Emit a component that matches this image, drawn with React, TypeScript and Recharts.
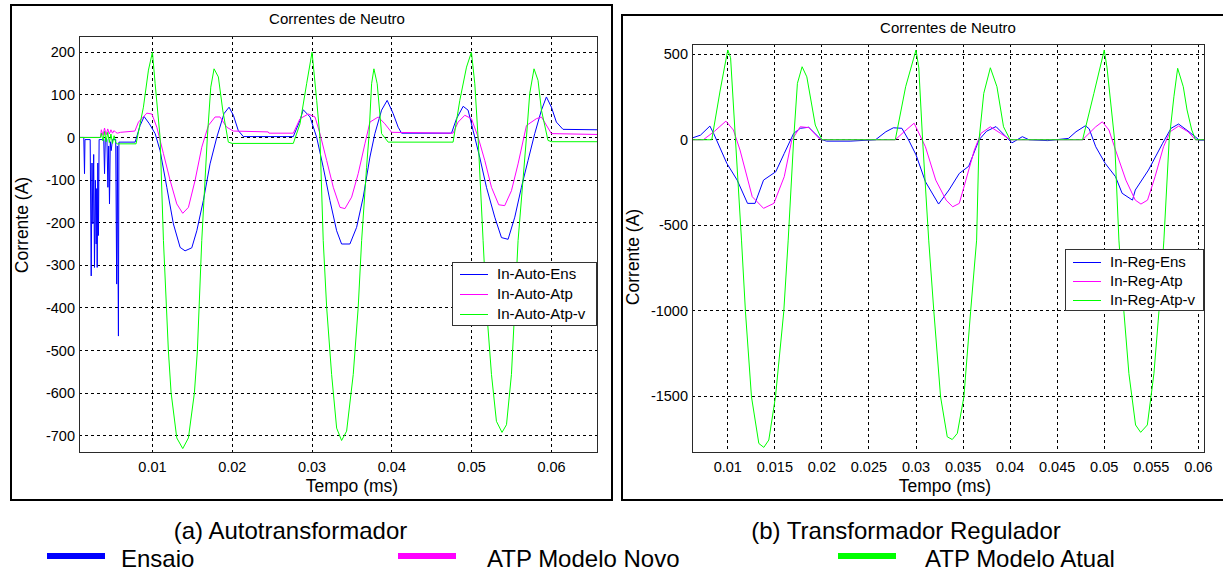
import React from 'react';
import { LineChart, Line, XAxis, YAxis, CartesianGrid } from 'recharts';

type Pt = [number, number];

// ---------- data : (a) Autotransformador ----------
const autoEnsaio: Pt[] = [
  [0.0008, 0], [0.0014, 0], [0.00149, -85], [0.00155, -5], [0.0022, -5], [0.00233, -325], [0.00243, -60],
  [0.00254, -203], [0.00264, -40], [0.00274, -305], [0.00285, -100], [0.00295, -250], [0.00302, -120],
  [0.00308, -305], [0.00316, -60], [0.00324, -230], [0.00332, -5], [0.0039, -5], [0.004, -85], [0.0041, 0],
  [0.0043, -5], [0.00442, -117], [0.00452, -20], [0.00462, -156], [0.00472, -10], [0.00483, -31], [0.005, -5],
  [0.0054, -5], [0.00552, -344], [0.0056, -20], [0.00574, -466], [0.0058, -11], [0.00783, -11], [0.00846, 28],
  [0.00896, 49], [0.00962, 32], [0.01034, 9], [0.01096, -31], [0.0118, -117], [0.01263, -203], [0.01347, -258],
  [0.01409, -266], [0.01493, -259], [0.01556, -219], [0.01638, -148], [0.01722, -62], [0.01806, 0], [0.01897, 56],
  [0.0196, 71], [0.02014, 52], [0.02076, 16], [0.02139, 2], [0.02765, 2], [0.02849, 40], [0.02889, 65],
  [0.02975, 48], [0.03058, 0], [0.0314, -70], [0.03224, -148], [0.03308, -219], [0.0337, -250], [0.03474, -250],
  [0.03558, -211], [0.03641, -140], [0.03725, -46], [0.03787, 9], [0.03871, 64], [0.03941, 87], [0.04016, 56],
  [0.04079, 24], [0.04121, 10], [0.04747, 10], [0.0481, 44], [0.04893, 73], [0.04955, 64], [0.05018, 16],
  [0.051, -46], [0.05185, -117], [0.05289, -187], [0.05373, -235], [0.05456, -239], [0.0554, -187], [0.05623, -117],
  [0.05706, -54], [0.0579, 9], [0.05874, 64], [0.05936, 95], [0.05999, 71], [0.06061, 36], [0.06144, 19], [0.0657, 18],
];

const autoNovo: Pt[] = [
  [0.0008, 0], [0.0035, 0], [0.0036, 18], [0.0038, 5], [0.004, 22], [0.0042, 6], [0.0044, 20], [0.0046, 8],
  [0.0048, 18], [0.005, 10], [0.0052, 16], [0.0054, 12], [0.0056, 10], [0.006, 12], [0.0078, 15], [0.00825, 36],
  [0.0093, 57], [0.00993, 55], [0.01055, 24], [0.01138, -38], [0.01222, -101], [0.01305, -156], [0.0138, -178],
  [0.01451, -164], [0.01534, -101], [0.01618, -23], [0.01701, 28], [0.01785, 48], [0.01847, 48], [0.01931, 24],
  [0.02014, 15], [0.0245, 13], [0.0246, 10], [0.02765, 10], [0.02849, 44], [0.02953, 55], [0.03037, 48],
  [0.03099, 9], [0.03183, -54], [0.03266, -117], [0.0335, -164], [0.03412, -167], [0.03496, -140], [0.03578, -85],
  [0.03662, -15], [0.03725, 36], [0.03829, 48], [0.03912, 32], [0.03996, 12], [0.04767, 10], [0.0483, 36],
  [0.04914, 52], [0.04997, 44], [0.0508, 1], [0.05164, -54], [0.05248, -117], [0.05339, -158], [0.05414, -160],
  [0.05498, -125], [0.05581, -62], [0.05686, 28], [0.05811, 44], [0.05874, 48], [0.05999, 9], [0.0657, 7],
];

const autoAtual: Pt[] = [
  [0.0008, 0], [0.0035, 0], [0.0036, 10], [0.0038, -8], [0.004, 14], [0.0042, -10], [0.0044, 12], [0.0046, -12],
  [0.0048, 8], [0.005, -14], [0.0052, 4], [0.0054, -12], [0.0056, -15], [0.00795, -15], [0.00887, 71],
  [0.0095, 158], [0.01, 200], [0.01034, 126], [0.01096, 0], [0.01138, -242], [0.012, -501], [0.01234, -599],
  [0.01305, -705], [0.0138, -730], [0.01451, -705], [0.01526, -599], [0.01563, -501], [0.01618, -242],
  [0.01688, 0], [0.01731, 118], [0.01772, 161], [0.01826, 142], [0.01881, 64], [0.01951, -11], [0.02, -14],
  [0.02765, -14], [0.02849, 32], [0.02932, 126], [0.03, 200], [0.03058, 87], [0.03099, 0], [0.0314, -242],
  [0.03183, -399], [0.03245, -556], [0.03308, -682], [0.0337, -711], [0.03433, -689], [0.03516, -556],
  [0.03578, -399], [0.03621, -242], [0.03683, -70], [0.03712, 0], [0.03746, 126], [0.03775, 161], [0.03816, 126],
  [0.03871, 9], [0.03954, -11], [0.04767, -11], [0.04851, 87], [0.04935, 165], [0.04997, 200], [0.05039, 126],
  [0.0508, 0], [0.05143, -242], [0.05185, -399], [0.05248, -556], [0.0531, -666], [0.0538, -692], [0.05436, -674],
  [0.05498, -556], [0.0554, -399], [0.05581, -242], [0.05686, 0], [0.05727, 103], [0.05781, 161], [0.05831, 134],
  [0.05874, 64], [0.05956, -7], [0.06, -10], [0.0657, -10],
];

// ---------- data : (b) Transformador Regulador ----------
const regEnsaio: Pt[] = [
  [0.0062, 10], [0.0071, 27], [0.0081, 80], [0.0085, 37], [0.0099, -138], [0.011, -236], [0.0121, -372],
  [0.0129, -372], [0.0138, -236], [0.0151, -187], [0.016, -80], [0.017, 37], [0.0177, 67], [0.0186, 73],
  [0.0199, 2], [0.0205, -8], [0.023, -8], [0.0257, 0], [0.0268, 47], [0.0276, 70], [0.0285, 67], [0.0292, 0],
  [0.03, -88], [0.031, -245], [0.0324, -376], [0.0335, -294], [0.0346, -197], [0.0356, -155], [0.0367, 0],
  [0.0375, 50], [0.0385, 77], [0.0402, -18], [0.0413, 18], [0.042, 0], [0.044, -5], [0.0462, 8], [0.047, 47],
  [0.048, 82], [0.0484, 64], [0.0491, -41], [0.0501, -138], [0.0512, -216], [0.0519, -313], [0.053, -353],
  [0.0533, -294], [0.0547, -177], [0.0562, -21], [0.0571, 67], [0.0579, 92], [0.059, 47], [0.0601, -2], [0.0606, -2],
];

const regNovo: Pt[] = [
  [0.0062, 0], [0.0074, 0], [0.0086, 50], [0.0098, 109], [0.0106, 57], [0.0113, -60], [0.0126, -333],
  [0.0138, -401], [0.0149, -372], [0.016, -216], [0.0168, -2], [0.0177, 76], [0.0186, 71], [0.0197, 8], [0.02, 0],
  [0.0278, 0], [0.0288, 50], [0.0298, 97], [0.031, -41], [0.0321, -236], [0.0332, -353], [0.0339, -392],
  [0.0346, -372], [0.0353, -236], [0.0362, -60], [0.0369, 37], [0.0379, 76], [0.039, 37], [0.04, 0], [0.0477, 0],
  [0.0491, 76], [0.0498, 105], [0.0505, 57], [0.0512, -60], [0.0523, -236], [0.0533, -353], [0.0539, -376],
  [0.0546, -353], [0.0554, -216], [0.0563, -41], [0.057, 47], [0.0579, 80], [0.0589, 47], [0.0597, 0], [0.0606, 0],
];

const regAtual: Pt[] = [
  [0.0062, 0], [0.0083, 0], [0.0092, 291], [0.01, 525], [0.0103, 480], [0.0108, 18], [0.01146, -587],
  [0.01188, -1006], [0.01252, -1503], [0.0133, -1776], [0.01383, -1799], [0.01436, -1756], [0.01507, -1503],
  [0.01595, -1006], [0.01642, -587], [0.017, 0], [0.0174, 330], [0.0179, 427], [0.0184, 368], [0.0193, 86],
  [0.02, 0], [0.0278, 0], [0.0289, 310], [0.03, 525], [0.0303, 420], [0.0307, 0], [0.03135, -587], [0.0319, -1006],
  [0.03261, -1503], [0.03332, -1737], [0.03385, -1753], [0.03439, -1717], [0.03509, -1503], [0.0358, -1006],
  [0.03644, -587], [0.0367, 0], [0.0372, 271], [0.0379, 421], [0.0386, 310], [0.0393, 76], [0.04, 0], [0.0477, 0],
  [0.0489, 271], [0.05, 525], [0.0503, 420], [0.0511, 0], [0.05156, -587], [0.05209, -1006], [0.05262, -1367],
  [0.05333, -1668], [0.05387, -1711], [0.05458, -1668], [0.05528, -1367], [0.05581, -1006], [0.05634, -587],
  [0.0569, 0], [0.0574, 251], [0.0578, 418], [0.0584, 310], [0.0588, 174], [0.0593, 57], [0.0597, 0], [0.0606, 0],
];

// ---------- axes / labels ----------
const autoXDomain = [0.0008, 0.0657];
const autoXTicks = [0.01, 0.02, 0.03, 0.04, 0.05, 0.06];
const autoYDomain = [-738, 238];
const autoYTicks = [-700, -600, -500, -400, -300, -200, -100, 0, 100, 200];

const regXDomain = [0.0062, 0.0606];
const regXTicks = [0.01, 0.015, 0.02, 0.025, 0.03, 0.035, 0.04, 0.045, 0.05, 0.055, 0.06];
const regYDomain = [-1826, 560];
const regYTicks = [-1500, -1000, -500, 0, 500];

const seriesColors = ['#0000ff', '#ff00ff', '#00ff00'];
const autoNames = ['In-Auto-Ens', 'In-Auto-Atp', 'In-Auto-Atp-v'];
const regNames = ['In-Reg-Ens', 'In-Reg-Atp', 'In-Reg-Atp-v'];
const captionNames = ['Ensaio', 'ATP Modelo Novo', 'ATP Modelo Atual'];
const chartTitle = 'Correntes de Neutro';
const yLabel = 'Corrente (A)';
const xLabel = 'Tempo (ms)';
const captionA = '(a) Autotransformador';
const captionB = '(b) Transformador Regulador';

const FONT = "Arial, 'Liberation Sans', Helvetica, sans-serif";

const toRows = (pts: Pt[]) => pts.map(([t, v]) => ({ t, v }));

function Txt({ cx, cy, size, rotate, children }: any) {
  return (
    <div
      style={{
        position: 'absolute',
        left: cx,
        top: cy,
        transform: `translate(-50%, -50%)${rotate ? ` rotate(${rotate}deg)` : ''}`,
        fontSize: size,
        lineHeight: 1,
        whiteSpace: 'nowrap',
        color: '#000',
        fontFamily: FONT,
      }}
    >
      {children}
    </div>
  );
}

function Panel({ left, top, width, height, margin, xDomain, xTicks, yDomain, yTicks, series }: any) {
  const tickStyle = { fill: '#000', fontSize: 14.5, fontFamily: FONT };
  const plotLeft = margin.left + 40;
  const plotTop = margin.top;
  const plotW = width - margin.right - plotLeft;
  const plotH = height - margin.bottom - 30 - plotTop;
  return (
    <div style={{ position: 'absolute', left, top, width, height }}>
      <LineChart width={width} height={height} margin={margin}>
        <CartesianGrid
          stroke="#000"
          strokeDasharray="3 3"
          strokeWidth={1}
          shapeRendering="crispEdges"
        />
        <XAxis
          dataKey="t"
          type="number"
          domain={xDomain}
          ticks={xTicks}
          allowDataOverflow
          height={30}
          tickLine={false}
          tickSize={0}
          tickMargin={10}
          tick={tickStyle}
          tickFormatter={(v: number) => String(v)}
          axisLine={false}
          interval={0}
        />
        <YAxis
          type="number"
          domain={yDomain}
          ticks={yTicks}
          allowDataOverflow
          width={40}
          tickLine={false}
          tickSize={0}
          tickMargin={4}
          tick={tickStyle}
          axisLine={false}
          interval={0}
        />
        {series.map((s: Pt[], i: number) => (
          <Line
            key={i}
            data={toRows(s)}
            dataKey="v"
            type="linear"
            stroke={seriesColors[i]}
            strokeWidth={1}
            dot={false}
            activeDot={false}
            isAnimationActive={false}
          />
        ))}
      </LineChart>
      {/* axes box */}
      <div
        style={{
          position: 'absolute',
          left: plotLeft,
          top: plotTop,
          width: plotW + 1,
          height: plotH + 1,
          boxSizing: 'border-box',
          border: '1px solid #2a2a2a',
          pointerEvents: 'none',
        }}
      />
    </div>
  );
}

function InnerLegend({ left, top, width, height, names, rows }: any) {
  return (
    <div
      style={{
        position: 'absolute',
        left,
        top,
        width,
        height,
        boxSizing: 'border-box',
        border: '1px solid #333',
        background: '#fff',
        fontFamily: FONT,
      }}
    >
      {names.map((n: string, i: number) => (
        <React.Fragment key={n}>
          <div
            style={{
              position: 'absolute',
              left: 7,
              top: rows[i],
              width: 28,
              height: 1,
              background: seriesColors[i],
            }}
          />
          <div
            style={{
              position: 'absolute',
              left: 44,
              top: rows[i] - 8,
              fontSize: 15,
              lineHeight: '16px',
              whiteSpace: 'nowrap',
              color: '#000',
            }}
          >
            {n}
          </div>
        </React.Fragment>
      ))}
    </div>
  );
}

export default function App() {
  return (
    <div
      style={{
        position: 'absolute',
        left: 0,
        top: 0,
        width: 1223,
        height: 571,
        overflow: 'hidden',
        background: '#fff',
        fontFamily: FONT,
      }}
    >
      {/* frames */}
      <div
        style={{
          position: 'absolute',
          left: 10,
          top: 4,
          width: 603,
          height: 497,
          boxSizing: 'border-box',
          border: '2px solid #000',
        }}
      />
      <div
        style={{
          position: 'absolute',
          left: 621,
          top: 14,
          width: 610,
          height: 487,
          boxSizing: 'border-box',
          border: '2px solid #000',
        }}
      />

      {/* (a) */}
      <Panel
        left={0}
        top={0}
        width={612}
        height={500}
        margin={{ top: 36, left: 39, right: 15, bottom: 18 }}
        xDomain={autoXDomain}
        xTicks={autoXTicks}
        yDomain={autoYDomain}
        yTicks={autoYTicks}
        series={[autoEnsaio, autoNovo, autoAtual]}
      />
      <Txt cx={337} cy={18} size={15}>{chartTitle}</Txt>
      <Txt cx={23} cy={225} size={17.5} rotate={-90}>{yLabel}</Txt>
      <Txt cx={352} cy={487} size={17.5}>{xLabel}</Txt>
      <InnerLegend left={452} top={262} width={145} height={64} names={autoNames} rows={[11, 31, 51]} />

      {/* (b) */}
      <Panel
        left={612}
        top={0}
        width={611}
        height={500}
        margin={{ top: 44, left: 40, right: 19, bottom: 18 }}
        xDomain={regXDomain}
        xTicks={regXTicks}
        yDomain={regYDomain}
        yTicks={regYTicks}
        series={[regEnsaio, regNovo, regAtual]}
      />
      <Txt cx={948} cy={27} size={15}>{chartTitle}</Txt>
      <Txt cx={634} cy={257} size={17.5} rotate={-90}>{yLabel}</Txt>
      <Txt cx={945} cy={487} size={17.5}>{xLabel}</Txt>
      <InnerLegend left={1065} top={249} width={139} height={62} names={regNames} rows={[12, 31, 50]} />

      {/* captions */}
      <Txt cx={290.5} cy={530.5} size={24}>{captionA}</Txt>
      <Txt cx={906} cy={530.5} size={24}>{captionB}</Txt>

      {/* bottom legend */}
      {captionNames.map((n, i) => {
        const barLeft = [47, 398, 838][i];
        const textLeft = [121, 487, 925][i];
        return (
          <React.Fragment key={n}>
            <div
              style={{
                position: 'absolute',
                left: barLeft,
                top: 553,
                width: 58,
                height: 6,
                background: seriesColors[i],
              }}
            />
            <div
              style={{
                position: 'absolute',
                left: textLeft,
                top: 546.5,
                fontSize: 24,
                lineHeight: '24px',
                whiteSpace: 'nowrap',
                color: '#000',
              }}
            >
              {n}
            </div>
          </React.Fragment>
        );
      })}
    </div>
  );
}
